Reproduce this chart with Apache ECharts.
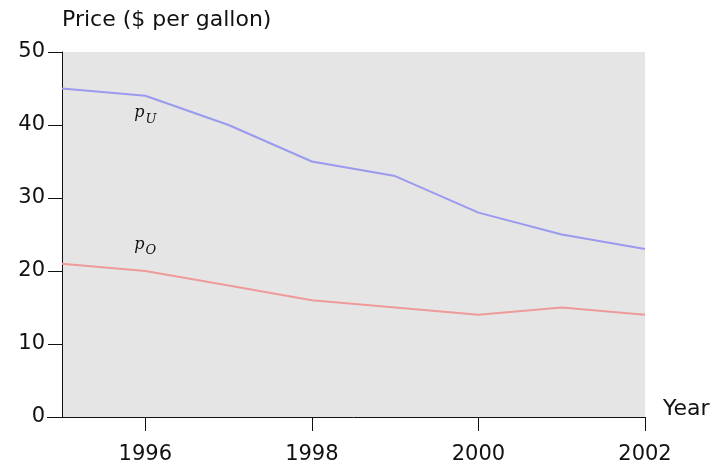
<!DOCTYPE html>
<html>
<head>
<meta charset="utf-8">
<script src="https://cdn.jsdelivr.net/npm/echarts@6/dist/echarts.min.js"></script>
<style>
  html, body { margin: 0; padding: 0; background: #fff; }
  #main { width: 713px; height: 469px; }
</style>
</head>
<body>
<div id="main"></div>
<script>
var years = ['1995', '1996', '1997', '1998', '1999', '2000', '2001', '2002'];
var priceU = [45, 44, 40, 35, 33, 28, 25, 23];
var priceO = [21, 20, 18, 16, 15, 14, 15, 14];
// where the series names sit, [category, value]
var labelU = ['1996', 41.6];
var labelO = ['1996', 23.6];

var font = 'DejaVu Sans';
var evenYear = function (i) { return i % 2 === 1; };

function nameLabel(pt, sub) {
    return {
        symbol: 'circle',
        symbolSize: 1,
        itemStyle: { color: 'transparent' },
        data: [{
            coord: pt,
            label: {
                show: true,
                position: 'inside',
                formatter: '{p|p}{s|' + sub + '}',
                rich: {
                    p: { fontFamily: 'DejaVu Serif', fontStyle: 'italic', fontSize: 16, color: '#111' },
                    s: { fontFamily: 'DejaVu Serif', fontStyle: 'italic', fontSize: 13, color: '#111', padding: [12, 0, 0, 1] }
                }
            }
        }]
    };
}

var chart = echarts.init(document.getElementById('main'));
chart.setOption({
    animation: false,
    textStyle: { fontFamily: font },
    grid: { left: 62, right: 68, top: 52, bottom: 52, show: true, backgroundColor: '#e5e5e5', borderWidth: 0 },
    // the bottom axis line runs on a little past the left axis
    graphic: [{
        type: 'line',
        shape: { x1: 47, y1: 417.5, x2: 62, y2: 417.5 },
        style: { stroke: '#111', lineWidth: 1 }
    }],
    xAxis: {
        type: 'category',
        data: years,
        boundaryGap: false,
        name: 'Year',
        nameLocation: 'end',
        nameGap: 18,
        nameTextStyle: { fontFamily: font, fontSize: 22, color: '#111', verticalAlign: 'bottom', lineHeight: 16 },
        axisLine: { lineStyle: { color: '#111', width: 1 } },
        axisTick: { show: true, length: 14, interval: evenYear, lineStyle: { color: '#111' } },
        axisLabel: { interval: evenYear, margin: 27, fontFamily: font, fontSize: 21, color: '#111' },
        splitLine: { show: false }
    },
    yAxis: {
        type: 'value',
        min: 0,
        max: 50,
        interval: 10,
        name: 'Price ($ per gallon)',
        nameLocation: 'end',
        nameGap: 21,
        nameTextStyle: { fontFamily: font, fontSize: 22, color: '#111', align: 'left' },
        axisLine: { show: true, lineStyle: { color: '#111', width: 1 } },
        axisTick: { show: true, length: 14, lineStyle: { color: '#111' } },
        axisLabel: { margin: 17, fontFamily: font, fontSize: 21, color: '#111' },
        splitLine: { show: false }
    },
    series: [
        {
            name: 'pU',
            type: 'line',
            data: priceU,
            symbol: 'none',
            lineStyle: { color: '#9a9aee', width: 2 },
            markPoint: nameLabel(labelU, 'U')
        },
        {
            name: 'pO',
            type: 'line',
            data: priceO,
            symbol: 'none',
            lineStyle: { color: '#ee9a9a', width: 2 },
            markPoint: nameLabel(labelO, 'O')
        }
    ]
});
</script>
</body>
</html>
